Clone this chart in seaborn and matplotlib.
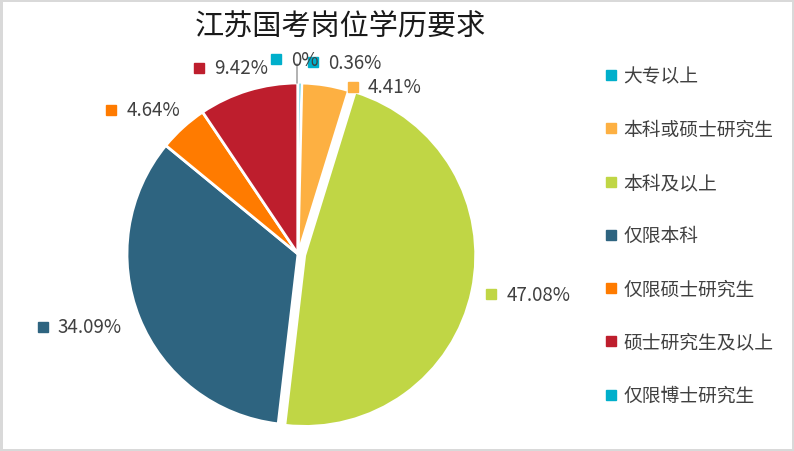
import matplotlib
matplotlib.use("Agg")
import matplotlib.pyplot as plt
from matplotlib.lines import Line2D
from matplotlib.transforms import offset_copy
import numpy as np
import pandas as pd
import seaborn as sns

# data
categories = ["大专以上", "本科或硕士研究生", "本科及以上", "仅限本科",
              "仅限硕士研究生", "硕士研究生及以上", "仅限博士研究生"]
shares = [0.36, 4.41, 47.08, 34.09, 4.64, 9.42, 0.0]
pct_labels = ["0.36%", "4.41%", "47.08%", "34.09%", "4.64%", "9.42%", "0%"]
colors = ["#00AFCB", "#FDB042", "#C0D645", "#2E6480", "#FF7B00", "#BE1E2D", "#00AFCB"]
title = "江苏国考岗位学历要求"

df = pd.DataFrame({"category": categories, "share": shares,
                   "label": pct_labels, "color": colors})

sns.set_theme(style="white")
plt.rcParams["font.family"] = ["Noto Sans CJK SC", "DejaVu Sans"]
txt_color = "#404040"

fig = plt.figure(figsize=(7.94, 4.52), dpi=100)
fig.patch.set_facecolor("white")
fig.patch.set_edgecolor("#d9d9d9")
fig.patch.set_linewidth(2.5)

ax = fig.add_axes([127 / 794, 1 - 426 / 452, 342 / 794, 342 / 452])
explode = [0.04 if c == "本科及以上" else 0 for c in df["category"]]
wedges, _ = ax.pie(df["share"], colors=df["color"], startangle=90,
                   counterclock=False, explode=explode,
                   wedgeprops=dict(edgecolor="white", linewidth=2))
for w in wedges:
    w.set_clip_on(False)
wedges[0].set_linewidth(0.8)
ax.set_xlim(-1, 1)
ax.set_ylim(-1, 1)
ax.set_aspect("equal")
ax.axis("off")

# label layout (pixels): square size, gap, and a few hand nudges
sq, gap = 10, 10
nudges = {"大专以上": (44, -3), "本科或硕士研究生": (50, -25), "仅限博士研究生": (-3, 0)}

fig.canvas.draw()
renderer = fig.canvas.get_renderer()
for w, row in zip(wedges, df.itertuples()):
    th = np.deg2rad((w.theta1 + w.theta2) / 2)
    axx, axy = 1.13 * np.cos(th), 1.14 * np.sin(th)
    t = ax.text(axx, axy, row.label, fontsize=13.5, color=txt_color,
                ha="left", va="center")
    tw = t.get_window_extent(renderer).width
    box_w = sq + gap + tw
    frac = (1 - np.cos(th)) / 2
    dx, dy = nudges.get(row.category, (0, 0))
    left = -frac * box_w + dx
    t.set_transform(offset_copy(ax.transData, fig=fig, x=left + sq + gap, y=dy, units="dots"))
    ax.plot([axx], [axy], marker="s", ms=7, color=row.color, linestyle="",
            clip_on=False,
            transform=offset_copy(ax.transData, fig=fig, x=left + sq / 2, y=dy, units="dots"))
    if row.share == 0:
        ax.plot([-0.005, -0.005], [1.0, 1.11], color="#a6a6a6", lw=1.2, clip_on=False)

handles = [Line2D([0], [0], marker="s", linestyle="", color=c, markersize=7.5)
           for c in df["color"]]
fig.legend(handles, df["category"], loc="center left",
           bbox_to_anchor=(588 / 794, 0.476), frameon=False, fontsize=13.5,
           labelspacing=1.72, handlelength=0.7, handletextpad=0.3,
           labelcolor=txt_color)

fig.text(340 / 794, 1 - 27 / 452, title, ha="center", va="center",
         fontsize=21, color="#1a1a1a")

fig.savefig("out.png", dpi=100, facecolor="white", edgecolor=fig.get_edgecolor())
